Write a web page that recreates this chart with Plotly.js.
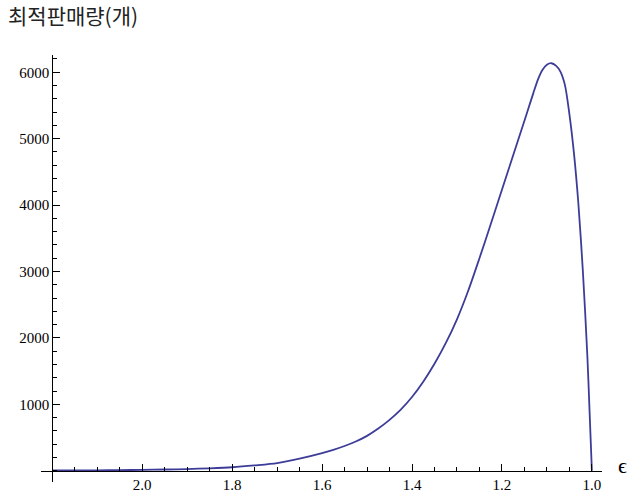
<!DOCTYPE html>
<html>
<head>
<meta charset="utf-8">
<script src="https://cdn.plot.ly/plotly-3.0.1.min.js"></script>
<style>html,body{margin:0;padding:0;background:#fff;}</style>
</head>
<body>
<div id="chart" style="width:629px;height:500px;"></div>
<script>
// Data (epsilon vs optimal sales quantity)
const epsilon = [2.20, 2.15, 2.10, 2.05, 2.00, 1.95, 1.90, 1.85, 1.80, 1.75, 1.70, 1.65, 1.60, 1.575, 1.55, 1.525, 1.50, 1.475, 1.45, 1.425, 1.40, 1.375, 1.35, 1.325, 1.30, 1.275, 1.25, 1.225, 1.20, 1.175, 1.15, 1.14, 1.13, 1.12, 1.11, 1.10, 1.09, 1.08, 1.07, 1.06, 1.05, 1.04, 1.03, 1.02, 1.01, 1.005, 1.00];
const quantity = [3, 4, 6, 9, 13, 18, 25, 36, 52, 80, 115, 182, 265, 315, 372, 440, 525, 635, 765, 920, 1110, 1340, 1610, 1920, 2280, 2710, 3200, 3710, 4230, 4750, 5270, 5480, 5690, 5890, 6035, 6115, 6136, 6100, 6010, 5810, 5370, 4790, 4020, 3000, 1720, 870, 0];

const xTickVals = [2.0, 1.8, 1.6, 1.4, 1.2, 1.0];
const xTickText = ["2.0", "1.8", "1.6", "1.4", "1.2", "1.0"];
const yTickVals = [1000, 2000, 3000, 4000, 5000, 6000];
const yTickText = ["1000", "2000", "3000", "4000", "5000", "6000"];

const titleText = "최적판매량(개)";
const xLabel = "ϵ";

const serif = "Liberation Serif, DejaVu Serif, serif";
const tickFont = {family: serif, size: 15, color: "#000"};

const trace = {
  x: epsilon,
  y: quantity,
  type: "scatter",
  mode: "lines",
  line: {color: "#3d3d99", width: 1.8, shape: "spline", smoothing: 0.8},
  hoverinfo: "skip",
  cliponaxis: false
};

const layout = {
  width: 629,
  height: 500,
  margin: {l: 41, r: 27, t: 55, b: 18, pad: 0},
  paper_bgcolor: "#fff",
  plot_bgcolor: "#fff",
  showlegend: false,
  font: {family: serif},
  title: {
    text: titleText,
    font: {family: "Noto Sans CJK KR", size: 21, color: "#222"},
    xref: "container", yref: "container",
    x: 8/629, xanchor: "left",
    y: 1 - 17/500, yanchor: "middle"
  },
  xaxis: {
    range: [2.225, 0.9775],
    anchor: "free",
    position: 0.0264,
    showline: true, linecolor: "#000", linewidth: 1,
    showgrid: false, zeroline: false,
    ticks: "inside", ticklen: 7, tickwidth: 1, tickcolor: "#000",
    tickvals: xTickVals, ticktext: xTickText,
    tickfont: tickFont,
    minor: {dtick: 0.05, tick0: 1.0, ticks: "inside", ticklen: 4, tickwidth: 1, tickcolor: "#000", showgrid: false}
  },
  yaxis: {
    range: [-170, 6260],
    anchor: "free",
    position: 0.02,
    showline: true, linecolor: "#000", linewidth: 1,
    showgrid: false, zeroline: false,
    ticks: "inside", ticklen: 7, tickwidth: 1, tickcolor: "#000",
    tickvals: yTickVals, ticktext: yTickText,
    tickfont: tickFont,
    minor: {dtick: 200, tick0: 0, ticks: "inside", ticklen: 4, tickwidth: 1, tickcolor: "#000", showgrid: false}
  },
  annotations: [{
    text: xLabel,
    xref: "paper", yref: "paper",
    x: 1.0357, y: 0.0375,
    xanchor: "center", yanchor: "middle",
    showarrow: false,
    font: {family: serif, size: 22, color: "#000"}
  }]
};

Plotly.newPlot("chart", [trace], layout, {staticPlot: true, displayModeBar: false});
</script>
</body>
</html>
